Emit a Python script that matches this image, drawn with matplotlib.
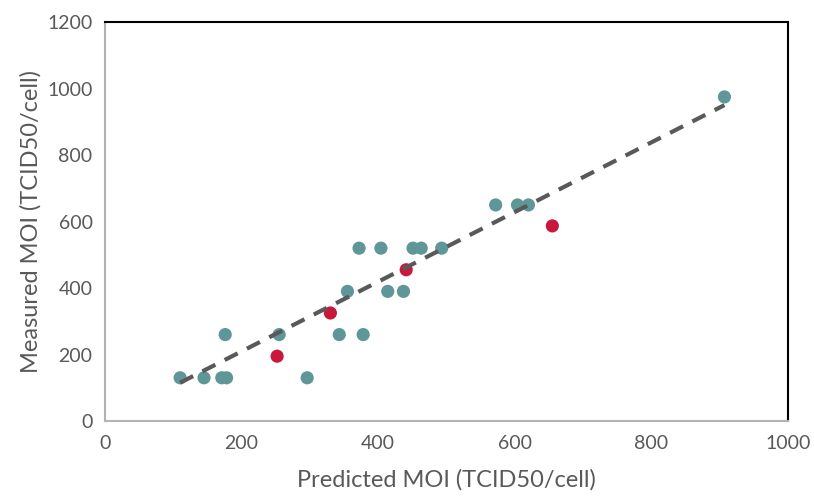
import matplotlib
matplotlib.use("Agg")
import matplotlib.pyplot as plt
import numpy as np

# teal series (predicted vs measured MOI)
pred_teal = [110, 145, 171, 178, 176, 255, 296, 343, 378, 355, 414, 437,
             372, 404, 451, 463, 493, 572, 604, 620, 907]
meas_teal = [130, 130, 130, 130, 260, 260, 130, 260, 260, 390, 390, 390,
             520, 520, 520, 520, 520, 650, 650, 650, 975]

# red series
pred_red = [252, 330, 441, 655]
meas_red = [195, 325, 455, 587]

# trendline through the origin, fitted on the teal series
xt = np.array(pred_teal)
yt = np.array(meas_teal)
slope = (xt * yt).sum() / (xt * xt).sum()
xl = np.array([xt.min(), xt.max()])

plt.rcParams['font.family'] = ['Lato', 'DejaVu Sans']
grey = '#595959'

fig = plt.figure(figsize=(8.14, 5.03), dpi=100)
ax = fig.add_axes([0.129, 0.163, 0.839, 0.793])

ax.scatter(pred_teal, meas_teal, s=90, color='#5F9799', edgecolors='none', zorder=2)
ax.scatter(pred_red, meas_red, s=90, color='#C8193C', edgecolors='none', zorder=3)
ax.plot(xl, slope * xl, color=grey, lw=3, ls=(0, (3.5, 2.5)), zorder=4)

ax.set_xlim(0, 1000)
ax.set_ylim(0, 1200)
ax.set_xticks(range(0, 1001, 200))
ax.set_yticks(range(0, 1201, 200))
ax.tick_params(length=0, labelsize=14, labelcolor=grey, pad=9)
ax.tick_params(axis='x', pad=10)

for s in ['top', 'right']:
    ax.spines[s].set_color('black')
    ax.spines[s].set_linewidth(1.5)
for s in ['left', 'bottom']:
    ax.spines[s].set_color('#b3b3b3')
    ax.spines[s].set_linewidth(1.5)

ax.set_xlabel('Predicted MOI (TCID50/cell)', fontsize=17, color=grey, labelpad=12)
ax.set_ylabel('Measured MOI (TCID50/cell)', fontsize=17, color=grey, labelpad=4)

fig.savefig('out.png', dpi=100)
